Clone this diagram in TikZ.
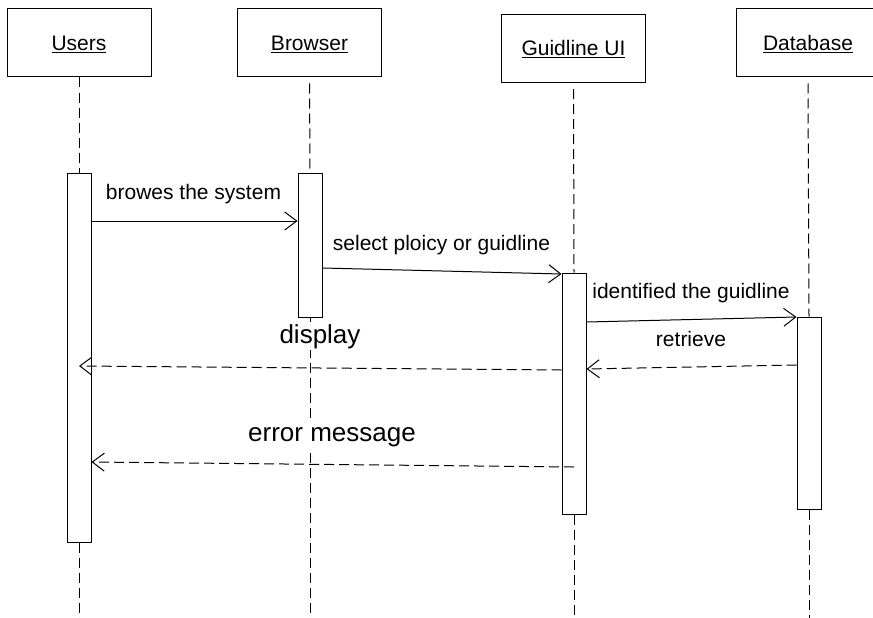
\documentclass[tikz,border=0pt]{standalone}
\usepackage{fontspec}
\setmainfont{Liberation Sans}
\usetikzlibrary{arrows.meta}
\begin{document}
\begin{tikzpicture}[x=1pt,y=-1pt,
  every node/.style={font=\fontsize{21}{25}\selectfont},
  objbox/.style={draw, line width=1pt, fill=white, minimum width=144pt,
    minimum height=68pt, inner sep=0pt, text height=15pt, text depth=0pt},
  actbar/.style={draw, line width=1pt, fill=white, minimum width=24pt, inner sep=0pt},
  lifeline/.style={line width=1pt, dash pattern=on 10pt off 5pt},
  msg/.style={line width=1pt, -{Straight Barb[length=12pt,width=18pt]}},
  reply/.style={msg, dash pattern=on 10pt off 5pt},
  msglabel/.style={anchor=base, inner sep=0pt},
  biglabel/.style={font=\fontsize{26}{30}\selectfont, fill=white, anchor=base, inner sep=2pt}
]
\useasboundingbox (0,0) rectangle (873,618);
\clip (0,0) rectangle (873,618);

% object boxes
\node[objbox] (users) at (79,43)      {\underline{Users}};
\node[objbox] (brow)  at (309.5,43)   {\underline{Browser}};
\node[objbox] (gui)   at (573.5,48.5) {\underline{Guidline UI}};
\node[objbox] (db)    at (808,43)     {\underline{Database}};

% activation bars
\node[actbar, minimum height=369pt] (ubar) at (79,357.5) {};
\node[actbar, minimum height=144pt] (bbar) at (310,245) {};
\node[actbar, minimum height=241pt] (gbar) at (574,393.5) {};
\node[actbar, minimum height=192pt] (dbar) at (809,413) {};

% bottom of the lifelines
\coordinate (bottom) at (0,618);

% lifelines
\draw[lifeline] (users.south) -- (ubar.north);
\draw[lifeline] (ubar.south) -- (ubar.south |- bottom);
\draw[lifeline] (brow.south) ++(0,6) -- (bbar.north);
\draw[lifeline] (bbar.south) -- (bbar.south |- bottom);
\draw[lifeline] (gui.south) ++(0,6) -- (gbar.north);
\draw[lifeline] (gbar.south) -- (gbar.south |- bottom);
\draw[lifeline] (db.south) ++(0,6) -- (dbar.north);
\draw[lifeline] (dbar.south) -- (dbar.south |- bottom);

% message levels
\coordinate (m1)  at (0,221);
\coordinate (m2a) at (0,268);
\coordinate (m2b) at (0,274);
\coordinate (m3a) at (0,322);
\coordinate (m3b) at (0,317);
\coordinate (m4a) at (0,365);
\coordinate (m4b) at (0,369);
\coordinate (m5a) at (0,370);
\coordinate (m5b) at (0,366);
\coordinate (m6a) at (0,467);
\coordinate (m6b) at (0,462);

% labels with white backgrounds over the browser lifeline
\node[biglabel] (ldisp) at (320,343) {display};
\node[biglabel, inner ysep=6pt] (lerr) at (332,441) {error message};

% messages
\draw[msg]   (ubar.east |- m1)  -- (bbar.west |- m1);
\draw[msg]   (bbar.east |- m2a) -- (gbar.west |- m2b);
\draw[msg]   (gbar.east |- m3a) -- (dbar.west |- m3b);
\draw[reply] (dbar.west |- m4a) -- (gbar.east |- m4b);
\draw[reply] (gbar.west |- m5a) -- (ubar.center |- m5b);
\draw[reply] (gbar.center |- m6a) -- (ubar.east |- m6b);

% message labels
\node[msglabel] (l1) at (193.5,199) {browes the system};
\node[msglabel] (l2) at (441.5,250) {select ploicy or guidline};
\node[msglabel] (l3) at (691,298)   {identified the guidline};
\node[msglabel] (l4) at (691,346)   {retrieve};
\end{tikzpicture}
\end{document}
